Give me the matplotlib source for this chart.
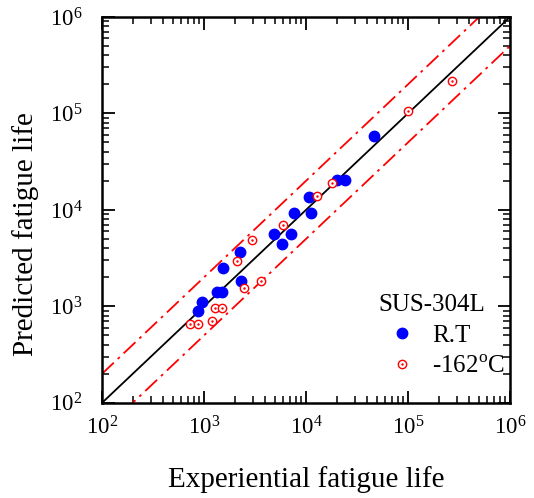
import matplotlib
matplotlib.use('Agg')
import matplotlib.pyplot as plt
from matplotlib.lines import Line2D
import numpy as np

plt.rcParams['font.family'] = ['Liberation Serif', 'DejaVu Serif']
plt.rcParams['mathtext.fontset'] = 'custom'
plt.rcParams['mathtext.rm'] = 'Liberation Serif'

# R.T data (experimental, predicted)
rt_exp = [866, 955, 1330, 1489, 1545, 2254, 2290, 4818, 5770, 7075, 7670,
          10790, 11200, 20280, 24100, 46450]
rt_pred = [898, 1104, 1402, 1402, 2506, 3648, 1836, 5600, 4445, 5600, 9250,
           13740, 9250, 20330, 20330, 58500]

# -162 C data
cryo_exp = [735, 874, 1189, 1273, 1513, 2110, 2449, 2977, 3625, 5903,
            12820, 17860, 99300, 268000]
cryo_pred = [664, 664, 713, 958, 958, 2957, 1546, 4886, 1836, 6935,
             13970, 19170, 105400, 218600]

band_factor = 2.0
x_line = np.array([1e2, 1e6])

fig = plt.figure(figsize=(5.34, 4.98), dpi=100)
ax = fig.add_axes([0.191, 0.191, 0.764, 0.775])

ax.plot(x_line, x_line, color='black', lw=1.3, zorder=2)
ax.plot(x_line, x_line * band_factor, color='red', lw=1.3, zorder=2,
        dashes=(9, 3, 1.5, 3))
ax.plot(x_line, x_line / band_factor, color='red', lw=1.3, zorder=2,
        dashes=(9, 3, 1.5, 3))

ax.plot(rt_exp, rt_pred, 'o', color='blue', ms=7.5, mec='blue', zorder=3)
ax.plot(cryo_exp, cryo_pred, 'o', mfc='white', mec='red', ms=6, mew=1.0, zorder=3)
ax.plot(cryo_exp, cryo_pred, '.', color='red', ms=1.5, zorder=4)

ax.set_xscale('log')
ax.set_yscale('log')
ax.set_xlim(1e2, 1e6)
ax.set_ylim(1e2, 1e6)

ax.tick_params(which='both', direction='in', top=True, right=True, labelsize=16.5)
ax.tick_params(which='major', length=9, width=1.3)
ax.tick_params(which='minor', length=5, width=1.1)
ax.tick_params(axis='x', pad=10)
ax.tick_params(axis='y', pad=14)
for s in ax.spines.values():
    s.set_linewidth(1.8)

ax.set_xlabel('Experiential fatigue life', fontsize=21, labelpad=19)
ax.set_ylabel('Predicted fatigue life', fontsize=21)
ax.yaxis.set_label_coords(-0.154, 0.438)

h_rt = Line2D([], [], marker='o', ls='none', color='blue', ms=7.5)
h_open = Line2D([], [], marker='o', ls='none', mfc='white', mec='red', ms=6)
h_dot = Line2D([], [], marker='.', ls='none', color='red', ms=1.5)
leg = ax.legend([h_rt, (h_open, h_dot)], ['R.T', '-162$^{\\rm o}$C'],
                title='SUS-304L', loc='lower left', frameon=False,
                fontsize=18, title_fontsize=18, handlelength=1.9,
                handletextpad=0.26, labelspacing=0.35, borderaxespad=0.2,
                bbox_to_anchor=(0.64, 0.025), alignment='left')

fig.savefig('out.png', dpi=100)
